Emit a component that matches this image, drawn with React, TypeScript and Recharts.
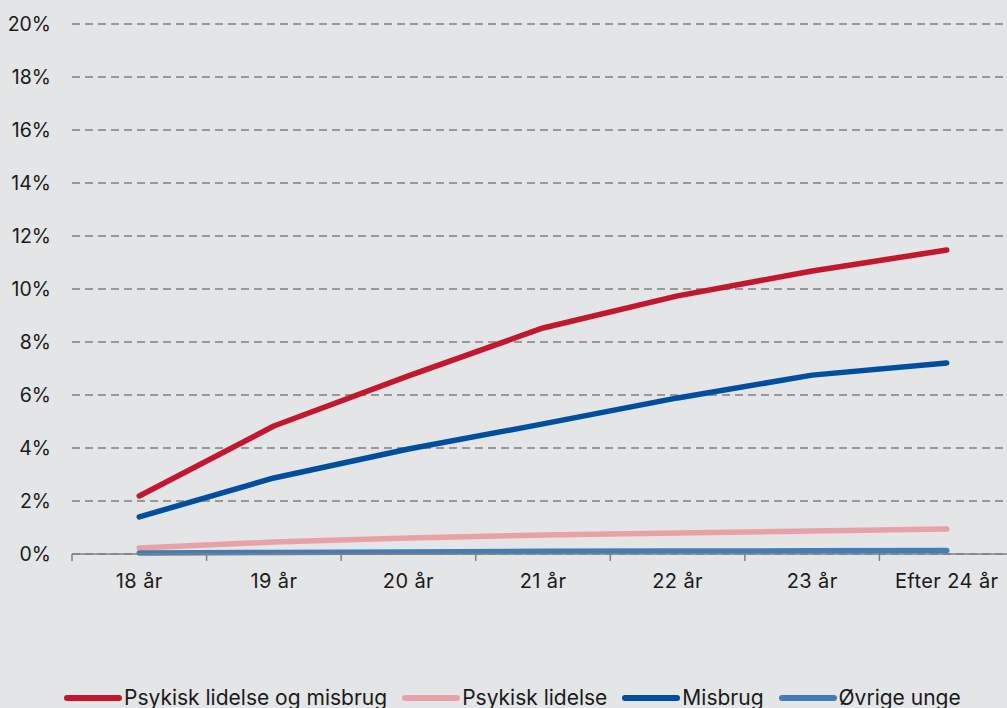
import React from "react";
import { LineChart, Line, XAxis, YAxis, CartesianGrid, Legend } from "recharts";

const categories = ["18 år", "19 år", "20 år", "21 år", "22 år", "23 år", "Efter 24 år"];
const psykMis = [2.19, 4.83, 6.72, 8.53, 9.74, 10.68, 11.47];
const psyk = [0.23, 0.45, 0.6, 0.72, 0.79, 0.87, 0.94];
const misbrug = [1.4, 2.87, 3.96, 4.91, 5.89, 6.75, 7.21];
const ovrige = [0.04, 0.06, 0.08, 0.1, 0.11, 0.12, 0.13];
const yTicks = [0, 2, 4, 6, 8, 10, 12, 14, 16, 18, 20];

const seriesDefs = [
  { key: "psykMis", name: "Psykisk lidelse og misbrug", color: "#c3172f" },
  { key: "psyk", name: "Psykisk lidelse", color: "#e8a2a7" },
  { key: "misbrug", name: "Misbrug", color: "#004f9f" },
  { key: "ovrige", name: "Øvrige unge", color: "#447db5" },
];

const data = categories.map((c, i) => ({
  cat: c,
  psykMis: psykMis[i],
  psyk: psyk[i],
  misbrug: misbrug[i],
  ovrige: ovrige[i],
}));

const W = 1007;
const H = 708;
const CHART_W = 1014;
const PLOT_LEFT = 72;
const BW = (CHART_W - PLOT_LEFT) / categories.length;
const FONT = "Inter, 'Noto Sans', sans-serif";

const XTick = (props: any) => {
  const { x, y, payload, index } = props;
  const isLast = index === categories.length - 1;
  return (
    <g>
      <line x1={x - BW / 2} y1={y} x2={x - BW / 2} y2={y + 7} stroke="#808080" strokeWidth={1.5} />
      {isLast && (
        <line x1={x + BW / 2} y1={y} x2={x + BW / 2} y2={y + 7} stroke="#808080" strokeWidth={1.5} />
      )}
      <text
        x={x}
        y={y + 34}
        textAnchor="middle"
        fill="#1a1a1a"
        fontSize={20}
        letterSpacing={0.4}
        fontFamily={FONT}
      >
        {payload.value}
      </text>
    </g>
  );
};

const LegendContent = () => (
  <div
    style={{
      position: "absolute",
      left: 63,
      top: -1,
      display: "flex",
      alignItems: "center",
      fontFamily: FONT,
      fontSize: 21,
      color: "#1a1a1a",
      whiteSpace: "nowrap",
    }}
  >
    {seriesDefs.map((s) => (
      <div key={s.key} style={{ display: "flex", alignItems: "center", marginRight: 14 }}>
        <svg width={60} height={10} style={{ marginRight: 1 }}>
          <line x1={4} y1={5} x2={56} y2={5} stroke={s.color} strokeWidth={6} strokeLinecap="round" />
        </svg>
        <span>{s.name}</span>
      </div>
    ))}
  </div>
);

export default function App() {
  return (
    <div
      style={{
        position: "absolute",
        left: 0,
        top: 0,
        width: W,
        height: H,
        background: "#e4e5e6",
        overflow: "hidden",
      }}
    >
      <LineChart
        width={CHART_W}
        height={H}
        data={data}
        margin={{ top: 24, right: 0, left: 0, bottom: 12 }}
      >
        <CartesianGrid vertical={false} stroke="#7f7f7f" strokeWidth={1.5} strokeDasharray="8 5" />
        <XAxis
          dataKey="cat"
          tickLine={false}
          tickSize={0}
          tickMargin={0}
          height={120}
          padding={{ left: BW / 2, right: BW / 2 }}
          axisLine={{ stroke: "#808080", strokeWidth: 1.5 }}
          tick={<XTick />}
          interval={0}
        />
        <YAxis
          domain={[0, 20]}
          ticks={yTicks}
          width={PLOT_LEFT}
          axisLine={false}
          tickLine={false}
          tickSize={0}
          tickMargin={21}
          tickFormatter={(v: number) => `${v}%`}
          tick={{ fill: "#1a1a1a", fontSize: 19.5, fontFamily: FONT }}
        />
        <Legend
          verticalAlign="bottom"
          wrapperStyle={{ bottom: 0, height: 22, width: W }}
          content={<LegendContent />}
        />
        {seriesDefs.map((s) => (
          <Line
            key={s.key}
            dataKey={s.key}
            name={s.name}
            stroke={s.color}
            strokeWidth={5.5}
            dot={false}
            strokeLinecap="round"
            strokeLinejoin="round"
            isAnimationActive={false}
          />
        ))}
      </LineChart>
    </div>
  );
}
